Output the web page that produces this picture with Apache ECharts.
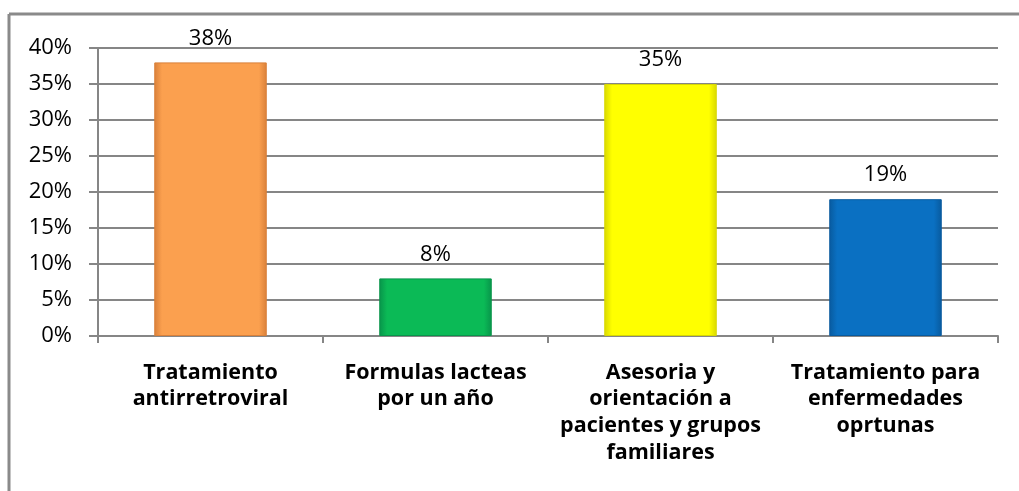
<!DOCTYPE html>
<html>
<head>
<meta charset="utf-8">
<script src="https://cdn.jsdelivr.net/npm/echarts@6/dist/echarts.min.js"></script>
<style>
  html, body { margin: 0; padding: 0; background: #fff; }
  #chart { width: 1019px; height: 491px; }
</style>
</head>
<body>
<div id="chart"></div>
<script>
// Categories, values (percent) and bar colours
const categories = [
  'Tratamiento\nantirretroviral',
  'Formulas lacteas\npor un año',
  'Asesoria y\norientación a\npacientes y grupos\nfamiliares',
  'Tratamiento para\nenfermedades\noprtunas'
];
const values = [38, 8, 35, 19];
const baseColors = ['#FBA04F', '#0BBA56', '#FFFF00', '#0A70C2'];
const edgeColors = ['#D9803A', '#08944A', '#D8D800', '#085A9E'];
const yTicks = { min: 0, max: 40, step: 5 };

const FONT = '"Open Sans", Lato, sans-serif';

function bevel(i) {
  return {
    type: 'linear', x: 0, y: 0, x2: 1, y2: 0,
    colorStops: [
      { offset: 0, color: edgeColors[i] },
      { offset: 0.07, color: baseColors[i] },
      { offset: 0.93, color: baseColors[i] },
      { offset: 1, color: edgeColors[i] }
    ]
  };
}

const chart = echarts.init(document.getElementById('chart'), null, { renderer: 'canvas' });
chart.setOption({
  animation: false,
  backgroundColor: '#fff',
  grid: { left: 98, right: 21, top: 48, bottom: 155, containLabel: false },
  graphic: [
    { type: 'line', shape: { x1: 9, y1: 14, x2: 1019, y2: 14 }, style: { stroke: '#8a8a8a', lineWidth: 3 } },
    { type: 'line', shape: { x1: 9, y1: 14, x2: 9, y2: 491 }, style: { stroke: '#8a8a8a', lineWidth: 3 } }
  ],
  xAxis: {
    type: 'category',
    data: categories,
    axisLine: { lineStyle: { color: '#868686', width: 2 } },
    axisTick: { show: true, length: 7, lineStyle: { color: '#868686', width: 2 } },
    axisLabel: {
      interval: 0,
      margin: 23,
      color: '#000',
      fontFamily: FONT,
      fontWeight: 'bold',
      fontSize: 21.5,
      lineHeight: 26.8,
      align: 'center'
    }
  },
  yAxis: {
    type: 'value',
    min: yTicks.min,
    max: yTicks.max,
    interval: yTicks.step,
    axisLine: { show: true, lineStyle: { color: '#868686', width: 2 } },
    axisTick: { show: true, length: 9, lineStyle: { color: '#868686', width: 2 } },
    splitLine: { lineStyle: { color: '#868686', width: 2 } },
    axisLabel: {
      formatter: '{value}%',
      margin: 26,
      color: '#000',
      fontFamily: FONT,
      fontSize: 22
    }
  },
  series: [{
    type: 'bar',
    barWidth: '50%',
    data: values.map((v, i) => ({
      value: v,
      itemStyle: { color: bevel(i), borderColor: edgeColors[i], borderWidth: 1 }
    })),
    label: {
      show: true,
      position: 'top',
      distance: 13,
      formatter: '{c}%',
      color: '#000',
      fontFamily: FONT,
      fontSize: 22
    }
  }]
});
</script>
</body>
</html>
